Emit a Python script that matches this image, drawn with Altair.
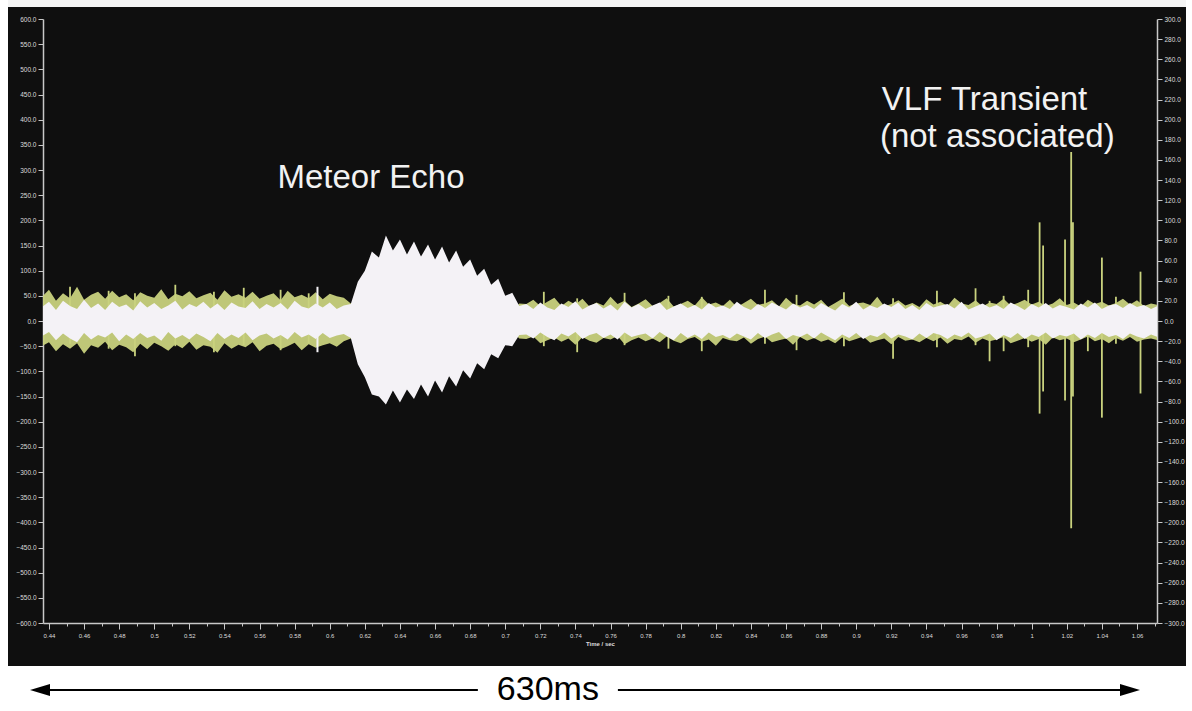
import altair as alt
import pandas as pd

# ---------------- data ----------------
T0 = 0.436          # first sample time (s)
STEP = 0.004        # sample spacing of the hand-read envelope (s)

# white trace envelope (left-axis units)
white_upper = (
    [28, 38, 22, 40, 30, 24, 42, 26, 35, 22, 38, 28, 33, 21, 39, 27, 36, 24, 31, 40,
     23, 34, 28, 38, 25, 35, 22, 37, 29, 26, 39, 24, 34, 27, 36, 23, 40, 29, 25, 35,
     27, 37, 24, 31]
    + [34, 78, 100, 138, 126, 170, 140, 162, 132, 158, 128, 152, 122, 148, 116, 140,
       108, 122, 90, 104, 72, 84, 50, 56, 30]
    + [34, 24, 37, 27, 22, 35, 28, 39, 23, 31, 36, 25, 33, 21, 38, 27, 34, 24, 31, 37,
       22, 29, 35, 26, 32, 23, 36, 27, 31, 24, 38, 28, 22, 34, 26, 37, 30, 23, 35, 27,
       32, 24, 36, 28, 21, 34, 27, 38, 23, 31, 26, 35, 28, 37, 24, 32, 22, 36, 27, 31,
       34, 25, 38, 23, 29, 35, 27, 32, 24, 37, 30, 22, 34, 27, 36, 25, 32, 28, 23, 35,
       27, 37, 24, 31, 34, 26, 36, 28, 32, 24, 30]
)
white_lower = (
    [-30, -22, -38, -25, -35, -42, -24, -37, -28, -33, -23, -40, -27, -36, -24, -34,
     -29, -39, -22, -35, -28, -37, -25, -32, -40, -24, -36, -27, -34, -23, -38, -29,
     -25, -35, -28, -37, -22, -33, -27, -36, -24, -34, -29, -26]
    + [-34, -86, -112, -146, -150, -166, -138, -162, -136, -155, -126, -150, -118,
       -142, -110, -130, -98, -114, -84, -96, -66, -74, -48, -50, -28]
    + [-27, -35, -23, -32, -38, -25, -31, -22, -36, -28, -24, -34, -27, -37, -23, -32,
       -28, -25, -35, -22, -31, -38, -24, -34, -27, -36, -23, -32, -28, -35, -25, -31,
       -37, -24, -34, -27, -22, -36, -28, -32, -25, -35, -23, -31, -38, -27, -34, -24,
       -36, -28, -32, -23, -35, -27, -31, -37, -25, -34, -24, -28, -36, -27, -32, -23,
       -35, -31, -25, -38, -28, -34, -24, -36, -27, -32, -23, -35, -28, -31, -25, -37,
       -27, -34, -24, -32, -28, -36, -25, -31, -35, -27, -32]
)
# yellow-green trace envelope
yellow_upper = (
    [48, 62, 40, 55, 45, 68, 42, 52, 58, 44, 60, 47, 53, 41, 57, 50, 46, 63, 43, 54,
     49, 59, 45, 51, 56, 42, 61, 48, 53, 46, 58, 44, 50, 55, 41, 60, 47, 52, 45, 57,
     43, 54, 49, 46]
    + [35] + [20] * 23 + [35]
    + [34, 42, 30, 38, 46, 30, 40, 33, 44, 29, 37, 31, 48, 34, 40, 28, 35, 43, 30, 36,
       45, 29, 34, 40, 31, 47, 33, 37, 30, 42, 28, 36, 44, 32, 35, 41, 29, 46, 34, 31,
       40, 33, 42, 28, 36, 44, 30, 35, 37, 32, 48, 29, 34, 41, 31, 36, 28, 43, 33, 38,
       30, 46, 35, 32, 41, 29, 37, 34, 44, 31, 36, 42, 33, 38, 30, 35, 45, 32, 37, 29,
       42, 34, 38, 31, 36, 44, 33, 41, 30, 35, 32]
)
yellow_lower = (
    [-50, -42, -60, -46, -55, -44, -65, -48, -53, -41, -58, -47, -52, -62, -45, -56,
     -43, -50, -59, -46, -54, -41, -57, -48, -51, -63, -44, -55, -47, -52, -42, -60,
     -49, -45, -56, -50, -43, -58, -46, -53, -48, -44, -51, -40]
    + [-35] + [-20] * 23 + [-35]
    + [-36, -31, -44, -38, -33, -41, -35, -47, -32, -39, -43, -34, -37, -30, -46, -38,
       -33, -40, -35, -42, -31, -39, -44, -36, -32, -41, -37, -49, -34, -38, -40, -33,
       -45, -36, -31, -42, -38, -35, -47, -32, -39, -34, -41, -37, -44, -33, -40, -36,
       -31, -43, -38, -35, -46, -32, -39, -37, -42, -34, -40, -33, -45, -36, -38, -31,
       -43, -35, -40, -37, -32, -44, -39, -34, -41, -36, -47, -33, -38, -35, -42, -37,
       -31, -40, -36, -44, -34, -39, -32, -41, -37, -35, -38]
)

# scattered yellow noise spikes (time s, low, high)
spike_t = [0.452, 0.474, 0.489, 0.512, 0.534, 0.551, 0.572, 0.588, 0.722, 0.741,
           0.768, 0.793, 0.812, 0.848, 0.866, 0.893, 0.921, 0.946, 0.968, 0.976, 0.984]
spike_lo = [-45, -55, -70, -50, -62, -48, -58, -45, -50, -62,
            -48, -55, -60, -45, -58, -50, -75, -52, -48, -80, -60]
spike_hi = [68, 60, 55, 72, 58, 66, 62, 55, 58, 45,
            56, 50, 48, 62, 52, 57, 45, 60, 65, 40, 50]

# VLF transient spikes
vlf_t = [0.998, 1.0045, 1.0065, 1.019, 1.0225, 1.0235, 1.032, 1.040, 1.048, 1.062]
vlf_lo = [-52, -184, -140, -158, -412, -150, -60, -192, -45, -144]
vlf_hi = [62, 196, 150, 162, 336, 196, 40, 126, 48, 98]

# lone white spike before the echo
echo_spike_t = [0.593]
echo_spike_lo = [-62]
echo_spike_hi = [68]

# axes
x_domain = [0.4366, 1.0714]
x_major = [round(0.44 + 0.02 * i, 2) for i in range(32)]
x_minor = [round(0.44 + 0.01 * i, 2) for i in range(64)]
left_ticks = list(range(-600, 601, 50))
right_ticks = list(range(-300, 301, 20))

# annotations (data coordinates)
echo_label = {"t": [0.6235], "v": [284], "text": ["Meteor Echo"]}
vlf_label = {"t": [0.9146, 0.9135], "v": [439, 366], "text": ["VLF Transient", "(not associated)"]}

span_label = "630ms"
span_t = [0.4349, 0.7243, 1.0560]   # left arrow head, label, right arrow head
span_gap = [0.6844, 0.7642]         # where the line breaks around the label
span_v = -733

# ---------------- build tables ----------------
n = len(white_upper)
times = [round(T0 + STEP * i, 4) for i in range(n)]
wave = pd.DataFrame({"t": times, "wu": white_upper, "wl": white_lower,
                     "yu": yellow_upper, "yl": yellow_lower})
spikes = pd.DataFrame({"t": spike_t + vlf_t, "lo": spike_lo + vlf_lo, "hi": spike_hi + vlf_hi})
wspike = pd.DataFrame({"t": echo_spike_t, "lo": echo_spike_lo, "hi": echo_spike_hi})

BG = "#0f0f0f"
WHITE = "#f4f2f6"
YEL = "#c9d27e"
AX = "#c8c8c8"
FONT = "Liberation Sans"

xs = alt.Scale(domain=x_domain, nice=False, zero=False)
ys = alt.Scale(domain=[-600, 600], nice=False, zero=False)

x_axis = alt.Axis(values=x_major, format="~g", title="Time / sec", orient="bottom",
                  tickSize=6, labelFontSize=6, titleFontSize=6,
                  labelOverlap=False, labelPadding=3, titlePadding=2, grid=False)
y_axis = alt.Axis(values=left_ticks, format=".1f", title=None, orient="left",
                  tickSize=5, labelFontSize=6.5, labelPadding=2,
                  labelOverlap=False, grid=False)


def X(field="t"):
    return alt.X(f"{field}:Q", scale=xs, axis=x_axis, title="Time / sec")


def Y(field):
    return alt.Y(f"{field}:Q", scale=ys, axis=y_axis, title=None)


one = pd.DataFrame({"a": [0]})
# white photo margins around the black screen (chart background is the screen colour)
margin_bottom = alt.Chart(one).mark_rect(color="white").encode(
    x=alt.value(-43), x2=alt.value(1149), y=alt.value(647), y2=alt.value(692))
margin_top = alt.Chart(one).mark_rect(color="#f4f4f4").encode(
    x=alt.value(-43), x2=alt.value(1149), y=alt.value(-19), y2=alt.value(-12))
margin_left = alt.Chart(one).mark_rect(color="white").encode(
    x=alt.value(-43), x2=alt.value(-35), y=alt.value(-19), y2=alt.value(692))
margin_right = alt.Chart(one).mark_rect(color="white").encode(
    x=alt.value(1143), x2=alt.value(1149), y=alt.value(-19), y2=alt.value(692))

yellow_area = alt.Chart(wave).mark_area(color=YEL, opacity=0.95, clip=True).encode(
    x=X(), y=Y("yu"), y2="yl:Q"
)
yellow_rules = alt.Chart(spikes).mark_rule(color=YEL, strokeWidth=1.8).encode(
    x=X(), y=Y("hi"), y2="lo:Q"
)
white_area = alt.Chart(wave).mark_area(color=WHITE, clip=True).encode(
    x=X(), y=Y("wu"), y2="wl:Q"
)
white_rule = alt.Chart(wspike).mark_rule(color=WHITE, strokeWidth=2).encode(
    x=X(), y=Y("hi"), y2="lo:Q"
)
echo_text = alt.Chart(pd.DataFrame(echo_label)).mark_text(
    color="#f2f2f2", font=FONT, fontSize=33, baseline="middle", align="center"
).encode(x=X(), y=Y("v"), text="text:N")
vlf_text = alt.Chart(pd.DataFrame(vlf_label)).mark_text(
    color="#f2f2f2", font=FONT, fontSize=33, baseline="middle", align="left"
).encode(x=X(), y=Y("v"), text="text:N")

span_lines = alt.Chart(pd.DataFrame({"t": [span_t[0], span_gap[1]],
                                     "t2": [span_gap[0], span_t[2]],
                                     "v": [span_v, span_v]})).mark_rule(
    color="black", strokeWidth=2).encode(x=X(), x2="t2:Q", y=Y("v"))
head_l = alt.Chart(pd.DataFrame({"t": [span_t[0]], "v": [span_v]})).mark_point(
    shape="M -1 0 L 1 -0.6 L 1 0.6 Z", size=400, filled=True, color="black", opacity=1
).encode(x=X(), y=Y("v"))
head_r = alt.Chart(pd.DataFrame({"t": [span_t[2]], "v": [span_v]})).mark_point(
    shape="M 1 0 L -1 -0.6 L -1 0.6 Z", size=400, filled=True, color="black", opacity=1
).encode(x=X(), y=Y("v"))
span_text = alt.Chart(pd.DataFrame({"t": [span_t[1]], "v": [span_v], "s": [span_label]})).mark_text(
    color="black", font=FONT, fontSize=34, baseline="middle", align="center"
).encode(x=X(), y=Y("v"), text="s:N")

left = alt.layer(margin_bottom, margin_top, margin_left, margin_right,
                 yellow_area, yellow_rules, white_area, white_rule,
                 echo_text, vlf_text, span_lines, head_l, head_r, span_text)

right = alt.Chart(pd.DataFrame({"t": [0.7], "r": [0]})).mark_point(opacity=0).encode(
    x=alt.X("t:Q", scale=xs,
            axis=alt.Axis(values=x_minor, labels=False, title=None, tickSize=3,
                          orient="bottom", domain=False, grid=False)),
    y=alt.Y("r:Q", scale=alt.Scale(domain=[-300, 300], nice=False, zero=False),
            axis=alt.Axis(orient="right", values=right_ticks, format=".1f", title=None,
                          tickSize=5, labelFontSize=6.5, labelPadding=2,
                          labelOverlap=False, grid=False))
)

chart = alt.layer(left, right).resolve_scale(y="independent", x="independent").properties(
    width=1114, height=604,
    autosize=alt.AutoSizeParams(type="none"),
    padding={"left": 43, "top": 19, "right": 35, "bottom": 88},
    background=BG,
).configure_view(stroke=None).configure_axis(
    domainColor=AX, tickColor=AX, labelColor="#dcdcdc", titleColor="#dcdcdc",
    labelFont=FONT, titleFont=FONT, domainWidth=1.5
)

chart.save("out.html", embed_options={"renderer": "svg", "actions": False})
